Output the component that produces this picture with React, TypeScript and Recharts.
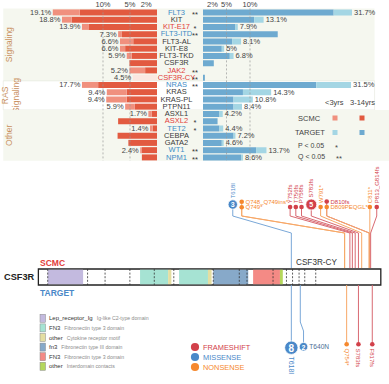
import React from 'react';
import {
  BarChart, Bar, XAxis, YAxis, LabelList, ReferenceArea, ReferenceLine,
  ComposedChart, Scatter, Cell,
} from 'recharts';

const FONT = '"Liberation Sans", Arial, Helvetica, sans-serif';

// ---------------- top panel data ----------------
const genes = ['FLT3', 'KIT', 'KIT-E17', 'FLT3-ITD', 'FLT3-AL', 'KIT-E8', 'FLT3-TKD', 'CSF3R', 'JAK2', 'CSF3R-CY',
  'NRAS', 'KRAS', 'KRAS-PL', 'PTPN11',
  'ASXL1', 'ASXL2', 'TET2', 'CEBPA', 'GATA2', 'WT1', 'NPM1'];
const geneTone = ['b', 'k', 'r', 'b', 'k', 'k', 'k', 'k', 'r', 'r', 'b', 'k', 'k', 'k', 'k', 'r', 'b', 'k', 'k', 'b', 'b'];
const significance = ['**', '', '*', '**', '', '', '', '', '**', '**', '**', '', '', '', '', '*', '*', '', '', '**', '**'];

const scmcLabels = ['19.1%', '18.8%', '13.9%', '7.3%', '6.6%', '6.6%', '5.9%', '5.2%', '5.2%', '4.5%',
  '17.7%', '9.4%', '9.4%', '5.9%', '1.7%', '7.3%', '1.4%', '6.3%', '5.2%', '2.4%', '2.1%'];
const scmcAge3to14 = [14.3, 15.8, 12.7, 6.5, 4.4, 5.9, 4.7, 5.1, 2.2, 0, 10.9, 5.6, 5.6, 4.1, 1.0, 7.2, 0.8, 7.3, 5.3, 2.8, 2.8];
const scmcUnder3 = [19.3, 17.6, 13.9, 7.2, 6.85, 6.85, 5.6, 5.1, 5.1, 4.5, 13.9, 9.3, 9.4, 5.9, 1.6, 7.2, 1.3, 7.3, 5.3, 3.1, 2.8];

const targetLabels = ['31.7%', '13.1%', '7.9%', '16.1%', '8.1%', '5%', '6.8%', '2.6%', '0%', '0.6%',
  '31.5%', '14.3%', '10.8%', '8.4%', '4.2%', '3.4%', '4.4%', '7.2%', '4.6%', '13.7%', '8.6%'];
const targetAge3to14 = [27.8, 10.9, 6.9, 15.9, 6.2, 4.0, 5.7, 2.3, 0, 0.4, 24.1, 8.5, 6.5, 6.5, 3.5, 3.1, 3.5, 6.5, 4.0, 11.3, 8.1];
const targetUnder3 = [31.7, 12.9, 7.4, 15.9, 8.1, 4.5, 6.5, 2.3, 0, 0.4, 31.5, 14.5, 10.6, 8.3, 4.2, 3.1, 4.3, 6.9, 4.4, 13.5, 8.5];

const axisTicks = [2, 5, 10];

const groupNames = [['Signaling'], ['RAS', 'Signaling'], ['Other']];
const groupFirst = ['FLT3', 'NRAS', 'ASXL1'];
const groupLast = ['CSF3R-CY', 'PTPN11', 'NPM1'];
const groupShaded = [true, false, true];

// ---------------- lollipop data ----------------
const PROTEIN_LEN = 836;
const positionTicks = [100, 200, 300, 400, 500, 600, 700, 800];
const domainNames = ['Lep_receptor_Ig', 'FN3', 'other', 'fn3', 'FN3', 'other'];
const domainDescs = ['Ig-like C2-type domain', 'Fibronectin type 3 domain', 'Cytokine receptor motif',
  'Fibronectin type III domain', 'Fibronectin type 3 domain', 'Interdomain contacts'];
const domainStarts = [19, 246, 315, 342, 413, 426, 524, 590];
const domainEnds = [106, 315, 323, 413, 422, 512, 590, 597];
const domainKinds = [0, 1, 2, 1, 2, 3, 4, 5];
const exonBounds = [19, 117, 160, 221, 281, 329, 426, 490, 509, 573, 606, 621, 637, 651, 678];

const scmcMutNames = ['T618I', 'Q748_Q749ins*', 'Q749*', 'Y752fs', 'T756fs', 'P758fs', 'S783fs', 'W791*', 'D810fs', 'D809PEQGL*', 'C811*', 'P813_G814fs'];
const scmcMutPos = [618, 749, 749, 762, 768, 775, 783, 791, 810, 809, 811, 813];
const scmcMutType = ['missense', 'nonsense', 'nonsense', 'frameshift', 'frameshift', 'frameshift', 'frameshift', 'nonsense', 'frameshift', 'nonsense', 'nonsense', 'frameshift'];
const scmcMutCount = [3, 1, 1, 1, 1, 1, 5, 1, 1, 1, 1, 1];

const targetMutNames = ['T618I', 'T640N', 'Q754*', 'S783fs', 'F817fs'];
const targetMutPos = [618, 640, 754, 783, 817];
const targetMutType = ['missense', 'missense', 'nonsense', 'frameshift', 'frameshift'];
const targetMutCount = [8, 2, 1, 1, 1];

// ---------------- layout / style ----------------
const W = 389;
const H = 384;
const TOP_H = 172;
const RED_DARK = '#e25a40';
const RED_LIGHT = '#f0907e';
const RED_PALE = '#fbe7e0';
const BLUE_DARK = '#6eaad0';
const BLUE_LIGHT = '#a4d6e4';
const PANEL_BG = '#f5f7ef';
const GROUP_COLOR = '#c9915f';
const TONE: Record<string, string> = { b: '#3e8cc6', k: '#3a3a3a', r: '#e2403a' };
const TYPE_COLOR: Record<string, string> = { frameshift: '#d2414a', missense: '#4a88c8', nonsense: '#f5882e' };
const STEM_COLOR: Record<string, string> = { frameshift: '#d96a72', missense: '#7aa8d8', nonsense: '#f7a868' };
const DOMAIN_COLORS = ['#c3badf', '#a6e3d3', '#e4dea2', '#87a9c9', '#f48a85', '#b5d75c'];

const scmcHeadX = [474, 496, 496, 615, 629, 643, 667, 690, 705, 705, 811, 828];
const scmcHeadY = [204.5, 201.8, 207.2, 207, 207, 207, 204.5, 207, 201.5, 207, 207, 207];
const scmcLabelSide = ['up', 'right', 'right', 'up', 'up', 'up', 'up', 'up', 'right', 'right', 'up', 'up'];
const targetHeadX = [618, 648, 754, 783, 817];
const targetHeadY = [347.7, 346.7, 344.3, 344.3, 344.3];
const targetLabelSide = ['down', 'right', 'down', 'down', 'down'];

// SCMC is drawn to the left, so its values are mirrored (negative) for the library's stack
const scmcRows = genes.map((g, i) => ({
  gene: g,
  older: -scmcAge3to14[i],
  extra: -Math.max(0, scmcUnder3[i] - scmcAge3to14[i]),
  lbl: scmcLabels[i],
}));
const targetRows = genes.map((g, i) => ({
  gene: g, older: targetAge3to14[i], extra: Math.max(0, targetUnder3[i] - targetAge3to14[i]), lbl: targetLabels[i],
}));

const radiusFor = (c: number) => (c === 1 ? 2.3 : 3.5 + 0.4 * c);

const scmcHeads = scmcMutNames.map((n, i) => ({
  x: scmcHeadX[i], y: scmcHeadY[i], name: n, type: scmcMutType[i], count: scmcMutCount[i], side: scmcLabelSide[i],
}));
const targetHeads = targetMutNames.map((n, i) => ({
  x: targetHeadX[i], y: targetHeadY[i], name: n, type: targetMutType[i], count: targetMutCount[i], side: targetLabelSide[i],
}));

const topTick = (p: any) => (
  <text x={p.x} y={7} textAnchor="middle" fontSize={7.5} fill="#444" fontFamily={FONT}>
    {Math.abs(p.payload.value)}%
  </text>
);

const GeneTick = (p: any) => {
  const g = p.payload.value;
  const i = genes.indexOf(g);
  return (
    <g>
      <text x={176.5} y={p.y} textAnchor="middle" dominantBaseline="central" fontSize={7.5}
        fill={TONE[geneTone[i]]} fontFamily={FONT}>{g}</text>
      {significance[i] ? (
        <text x={significance[i].length === 1 ? 193.5 : 192} y={p.y + 2.2} fontSize={7.5} fill="#333" fontFamily={FONT} dominantBaseline="central">{significance[i]}</text>
      ) : null}
    </g>
  );
};

const leftLabel = (p: any) => {
  const vb = p.viewBox ?? p;
  const x = Math.min(vb.x, vb.x + vb.width);
  const y = vb.y + vb.height / 2;
  return (
    <text x={x - 1.5} y={y} textAnchor="end" dominantBaseline="central" fontSize={7.5} fill="#444" fontFamily={FONT}>
      {p.value}
    </text>
  );
};
const rightLabel = (p: any) => {
  const vb = p.viewBox ?? p;
  const x = Math.max(vb.x, vb.x + vb.width);
  const y = vb.y + vb.height / 2;
  return (
    <text x={x + 2} y={y} textAnchor="start" dominantBaseline="central" fontSize={7.5} fill="#444" fontFamily={FONT}>
      {p.value}
    </text>
  );
};

const groupLabel = (lines: string[]) => (p: any) => {
  const vb = p.viewBox;
  if (!vb) return null;
  const cy = vb.y + vb.height / 2;
  const x0 = lines.length === 1 ? 9.5 : 5.5;
  return (
    <g>
      {lines.map((t, k) => {
        const x = x0 + k * 10.5;
        return (
          <text key={k} x={x} y={cy} transform={`rotate(-90 ${x} ${cy})`} textAnchor="middle"
            dominantBaseline="central" fontSize={8.5} fill={GROUP_COLOR} fontFamily={FONT}>{t}</text>
        );
      })}
    </g>
  );
};

const MARGIN_BOTTOM = TOP_H - 8.4 - 152.25;

function RightChart() {
  return (
    <BarChart width={W} height={TOP_H} layout="vertical" data={targetRows} barSize={6}
      margin={{ top: 0.4, right: 30.9, bottom: MARGIN_BOTTOM, left: 0 }}>
      <XAxis type="number" orientation="top" domain={[0, 33]} ticks={axisTicks} height={8} interval={0}
        axisLine={false} tickLine={false} tick={topTick} allowDataOverflow />
      <YAxis type="category" dataKey="gene" width={203} axisLine={false} tickLine={false}
        tick={GeneTick} interval={0} />
      {groupNames.map((n, gi) => (
        <ReferenceArea key={gi} y1={groupFirst[gi]} y2={groupLast[gi]} x1={-42.5} x2={gi === 2 ? 39.6 : 36.5}
          ifOverflow="visible" fill={groupShaded[gi] ? PANEL_BG : '#ffffff'} fillOpacity={1}
          stroke={groupShaded[gi] ? 'none' : '#e4e6dc'} strokeWidth={0.6}
          label={groupLabel(n)} />
      ))}
      <ReferenceLine x={5} stroke="#999" strokeDasharray="2 2" strokeWidth={0.7} />
      <ReferenceLine x={10} stroke="#999" strokeDasharray="2 2" strokeWidth={0.7} />
      <Bar dataKey="older" stackId="s" fill={BLUE_DARK} isAnimationActive={false} />
      <Bar dataKey="extra" stackId="s" fill={BLUE_LIGHT} isAnimationActive={false}>
        <LabelList dataKey="lbl" content={rightLabel} />
      </Bar>
    </BarChart>
  );
}

function LeftChart() {
  return (
    <BarChart width={W} height={TOP_H} layout="vertical" data={scmcRows} barSize={6}
      margin={{ top: 0.4, right: 232, bottom: MARGIN_BOTTOM, left: 49 }}>
      <XAxis type="number" orientation="top" domain={[-20, 0]} ticks={axisTicks.map((t) => -t)} height={8} interval={0}
        axisLine={false} tickLine={false} tick={topTick} allowDataOverflow />
      <YAxis type="category" dataKey="gene" hide width={0} />
      <ReferenceLine x={-5} stroke="#999" strokeDasharray="2 2" strokeWidth={0.7} />
      <ReferenceLine x={-10} stroke="#999" strokeDasharray="2 2" strokeWidth={0.7} />
      <Bar dataKey="older" stackId="s" fill={RED_DARK} isAnimationActive={false} />
      <Bar dataKey="extra" stackId="s" fill={RED_LIGHT} isAnimationActive={false}>
        {scmcRows.map((r, i) => (
          <Cell key={i} fill={r.older === 0 ? RED_PALE : RED_LIGHT} />
        ))}
        <LabelList dataKey="lbl" content={leftLabel} />
      </Bar>
    </BarChart>
  );
}

const headShape = (p: any) => {
  const { cx, cy, payload } = p;
  if (cx == null || cy == null) return null;
  const col = TYPE_COLOR[payload.type];
  const r = radiusFor(payload.count);
  const fs = payload.count >= 8 ? 10 : 7;
  let label: any = null;
  const lf = 6;
  const tc = payload.type === 'missense' && payload.side === 'right' ? '#4b6d94' : col;
  if (payload.side === 'up') {
    const lx = cx; const ly = cy - r - 1.5;
    label = <text x={lx} y={ly} transform={`rotate(-90 ${lx} ${ly})`} dominantBaseline="central" fontSize={lf} fill={col} fontFamily={FONT}>{payload.name}</text>;
  } else if (payload.side === 'down') {
    const lx = cx; const ly = cy + r + 2;
    label = <text x={lx} y={ly} transform={`rotate(90 ${lx} ${ly})`} dominantBaseline="central" fontSize={payload.count >= 8 ? 7 : lf} fill={col} fontFamily={FONT}>{payload.name}</text>;
  } else {
    label = <text x={cx + r + 1.5} y={cy} dominantBaseline="central" fontSize={payload.count > 1 ? 6.6 : lf} fill={tc} fontFamily={FONT}>{payload.name}</text>;
  }
  return (
    <g>
      <circle cx={cx} cy={cy} r={r} fill={col} stroke={payload.count > 1 ? '#fff' : 'none'} strokeWidth={0.8} />
      {payload.count > 1 ? (
        <text x={cx} y={cy + 0.3} textAnchor="middle" dominantBaseline="central" fontSize={fs} fontWeight="bold" fill="#fff" fontFamily={FONT}>{payload.count}</text>
      ) : null}
      {label}
    </g>
  );
};

const posTick = (p: any) => (
  <text x={p.x} y={280.5} textAnchor="middle" dominantBaseline="central" fontSize={4.4} fill="#555" fontFamily={FONT}>
    {p.payload.value}
  </text>
);

const BOX_TOP = 269;
const BOX_BOT = 285;
const KNEE_A = 216;
const KNEE_B = 233;
const STEM_END = 268;

function LollipopChart() {
  const segs: any[] = [];
  scmcHeads.forEach((h, i) => {
    const pos = scmcMutPos[i];
    const c = STEM_COLOR[h.type];
    segs.push({ a: { x: h.x, y: h.y }, b: { x: h.x, y: KNEE_A }, c });
    segs.push({ a: { x: h.x, y: KNEE_A }, b: { x: pos, y: KNEE_B }, c });
    segs.push({ a: { x: pos, y: KNEE_B }, b: { x: pos, y: STEM_END }, c });
  });
  targetHeads.forEach((h, i) => {
    const pos = targetMutPos[i];
    const c = STEM_COLOR[h.type];
    if (h.x !== pos) {
      segs.push({ a: { x: pos, y: BOX_BOT }, b: { x: pos, y: 322 }, c });
      segs.push({ a: { x: pos, y: 322 }, b: { x: h.x, y: 331 }, c });
      segs.push({ a: { x: h.x, y: 331 }, b: { x: h.x, y: h.y }, c });
    } else {
      segs.push({ a: { x: pos, y: BOX_BOT }, b: { x: pos, y: h.y }, c });
    }
  });
  return (
    <ComposedChart width={W} height={H} margin={{ top: 0, right: 9, bottom: 0, left: 40 }}>
      <XAxis type="number" dataKey="x" domain={[0, PROTEIN_LEN]} ticks={positionTicks} height={0}
        axisLine={false} tickLine={false} tick={posTick} allowDataOverflow interval={0} />
      <YAxis type="number" dataKey="y" domain={[0, H]} reversed hide width={0} allowDataOverflow />
      {segs.map((s, k) => (
        <ReferenceLine key={'s' + k} segment={[s.a, s.b]} stroke={s.c} strokeWidth={1} ifOverflow="visible" />
      ))}
      <ReferenceArea x1={-4} x2={838} y1={BOX_TOP} y2={BOX_BOT} fill="#fff" fillOpacity={1} stroke="#222" strokeWidth={1.3} ifOverflow="visible" />
      {domainStarts.map((s, k) => (
        <ReferenceArea key={'d' + k} x1={s} x2={domainEnds[k]} y1={BOX_TOP + 0.7} y2={BOX_BOT - 0.7}
          fill={DOMAIN_COLORS[domainKinds[k]]} fillOpacity={1} stroke="none" ifOverflow="visible" />
      ))}
      {exonBounds.map((e, k) => (
        <ReferenceLine key={'e' + k} segment={[{ x: e, y: BOX_TOP }, { x: e, y: BOX_BOT }]}
          stroke="#333" strokeWidth={0.8} strokeDasharray="2 1.6" ifOverflow="visible" />
      ))}
      <Scatter data={scmcHeads} shape={headShape} isAnimationActive={false} />
      <Scatter data={targetHeads} shape={headShape} isAnimationActive={false} />
    </ComposedChart>
  );
}

function Overlay() {
  const legendRows = [318.3, 327.9, 337.5, 347.1, 356.7, 366.3];
  const typeRows = [347, 357, 367];
  const typeNames = ['FRAMESHIFT', 'MISSENSE', 'NONSENSE'];
  const typeKeys = ['frameshift', 'missense', 'nonsense'];
  return (
    <svg width={W} height={H} style={{ position: 'absolute', left: 0, top: 0, pointerEvents: 'none' }} fontFamily={FONT}>
      <text x={325} y={102} fontSize={7.5} fill="#444" dominantBaseline="central">&lt;3yrs</text>
      <text x={350} y={102} fontSize={7.5} fill="#444" dominantBaseline="central">3-14yrs</text>
      <text x={298} y={118} fontSize={7.5} fill="#444" dominantBaseline="central">SCMC</text>
      <rect x={332.5} y={115.5} width={5} height={5} fill={RED_LIGHT} />
      <rect x={359.5} y={115.5} width={5} height={5} fill={RED_DARK} />
      <text x={295} y={132.5} fontSize={7.5} fill="#444" dominantBaseline="central">TARGET</text>
      <rect x={332.5} y={130} width={5} height={5} fill={BLUE_LIGHT} />
      <rect x={359.5} y={130} width={5} height={5} fill={BLUE_DARK} />
      <text x={298} y={145} fontSize={7} fill="#444" dominantBaseline="central">P &lt; 0.05</text>
      <text x={335} y={147} fontSize={7.5} fill="#444" dominantBaseline="central">*</text>
      <text x={298} y={156.5} fontSize={7} fill="#444" dominantBaseline="central">Q &lt; 0.05</text>
      <text x={336} y={158.5} fontSize={7.5} fill="#444" dominantBaseline="central">**</text>

      <text x={4} y={277} fontSize={9.2} fontWeight="bold" fill="#222" dominantBaseline="central">CSF3R</text>
      <text x={40} y={262.5} fontSize={8.5} fontWeight="bold" fill="#e2403a" dominantBaseline="central">SCMC</text>
      <text x={40} y={292.5} fontSize={8.5} fontWeight="bold" fill="#4a88c8" dominantBaseline="central">TARGET</text>
      <text x={296} y={262} fontSize={8.2} fill="#333" dominantBaseline="central">CSF3R-CY</text>

      {domainNames.map((n, k) => (
        <g key={k}>
          <rect x={40} y={legendRows[k] - 4} width={5.5} height={8} fill={DOMAIN_COLORS[k]} stroke="#8a8a8a" strokeWidth={0.5} />
          <text x={49} y={legendRows[k]} fontSize={6} fill="#333" dominantBaseline="central">
            {n}
            <tspan dx={4} fontSize={5.2} fill="#8c8c8c">{domainDescs[k]}</tspan>
          </text>
        </g>
      ))}

      {typeNames.map((n, k) => (
        <g key={k}>
          <circle cx={195} cy={typeRows[k]} r={4.1} fill={TYPE_COLOR[typeKeys[k]]} />
          <text x={203} y={typeRows[k]} fontSize={7.4} fill={TYPE_COLOR[typeKeys[k]]} dominantBaseline="central">{n}</text>
        </g>
      ))}
    </svg>
  );
}

export default function App() {
  return (
    <div style={{ position: 'absolute', left: 0, top: 0, width: W, height: H, background: '#fff', overflow: 'hidden', fontFamily: FONT }}>
      <div style={{ position: 'absolute', left: 0, top: 0 }}><RightChart /></div>
      <div style={{ position: 'absolute', left: 0, top: 0 }}><LeftChart /></div>
      <div style={{ position: 'absolute', left: 0, top: 0 }}><LollipopChart /></div>
      <Overlay />
    </div>
  );
}
